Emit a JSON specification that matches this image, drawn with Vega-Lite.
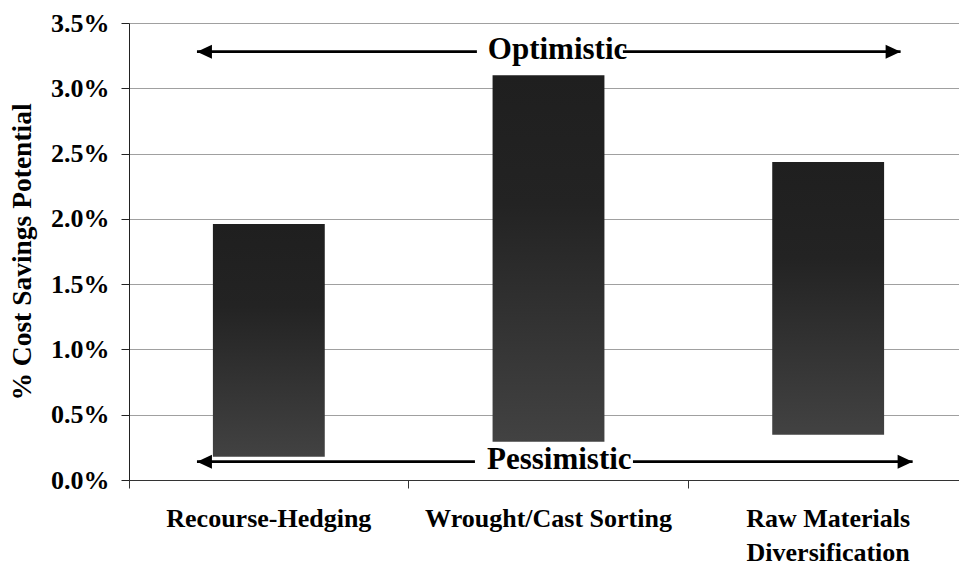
{
  "$schema": "https://vega.github.io/schema/vega-lite/v6.json",
  "width": 830,
  "height": 457,
  "autosize": {"type": "none"},
  "padding": {"left": 129, "top": 23, "right": 0, "bottom": 85},
  "background": "white",
  "config": {"view": {"stroke": null}, "font": "Liberation Serif"},
  "datasets": {
    "bars": [
      {"strategy": "Recourse-Hedging", "low": 0.00178, "high": 0.0196},
      {"strategy": "Wrought/Cast Sorting", "low": 0.00293, "high": 0.0310},
      {"strategy": "Raw Materials Diversification", "low": 0.00347, "high": 0.02435}
    ],
    "arrows": [
      {"label": "Optimistic", "y": 0.0328, "xl": 0.243, "xle": 1.244, "xt": 1.283, "xrs": 1.766, "xr": 2.759},
      {"label": "Pessimistic", "y": 0.0014, "xl": 0.243, "xle": 1.237, "xt": 1.280, "xrs": 1.802, "xr": 2.802}
    ]
  },
  "layer": [
    {
      "data": {"name": "bars"},
      "mark": {
        "type": "bar",
        "width": {"band": 0.4},
        "color": {
          "gradient": "linear", "x1": 0, "y1": 0, "x2": 0, "y2": 1,
          "stops": [
            {"offset": 0, "color": "#1f1f1f"},
            {"offset": 0.35, "color": "#232323"},
            {"offset": 1, "color": "#424242"}
          ]
        }
      },
      "encoding": {
        "x": {
          "field": "strategy", "type": "nominal", "sort": null,
          "scale": {"range": [0, 839], "paddingInner": 0, "paddingOuter": 0},
          "axis": {
            "title": null, "bandPosition": 0, "tickSize": 8, "labelAngle": 0,
            "labelFontSize": 26, "labelFontWeight": "bold", "labelColor": "black",
            "labelPadding": 17, "labelLimit": 400, "labelOverlap": false,
            "labelBaseline": "top", "labelLineHeight": 34,
            "labelExpr": "datum.value == 'Raw Materials Diversification' ? ['Raw Materials', 'Diversification'] : datum.value",
            "domainColor": "#333333", "tickColor": "#333333", "grid": false
          }
        },
        "y": {
          "field": "low", "type": "quantitative",
          "scale": {"domain": [0, 0.035], "nice": false},
          "axis": {
            "title": "% Cost Savings Potential",
            "titleFontSize": 27.5, "titleFontWeight": "bold", "titleColor": "black", "titlePadding": 14,
            "values": [0, 0.005, 0.01, 0.015, 0.02, 0.025, 0.03, 0.035],
            "format": ".1%",
            "labelFontSize": 26, "labelFontWeight": "bold", "labelColor": "black", "labelPadding": 12,
            "tickSize": 8, "tickColor": "#222222", "domainColor": "#222222",
            "grid": true, "gridColor": "#a0a0a0", "gridWidth": 1
          }
        },
        "y2": {"field": "high"}
      }
    },
    {
      "data": {"name": "arrows"},
      "mark": {"type": "rule", "strokeWidth": 2.75, "color": "black"},
      "encoding": {
        "x": {"field": "xl", "type": "quantitative", "scale": {"domain": [0, 3], "range": [0, 839]}, "axis": null},
        "x2": {"field": "xle"},
        "y": {"field": "y", "type": "quantitative"}
      }
    },
    {
      "data": {"name": "arrows"},
      "mark": {"type": "rule", "strokeWidth": 2.75, "color": "black"},
      "encoding": {
        "x": {"field": "xrs", "type": "quantitative", "scale": {"domain": [0, 3], "range": [0, 839]}, "axis": null},
        "x2": {"field": "xr"},
        "y": {"field": "y", "type": "quantitative"}
      }
    },
    {
      "data": {"name": "arrows"},
      "mark": {"type": "point", "shape": "M0,0L2,-0.93L2,0.93Z", "size": 225, "filled": true, "opacity": 1, "color": "black"},
      "encoding": {
        "x": {"field": "xl", "type": "quantitative", "scale": {"domain": [0, 3], "range": [0, 839]}, "axis": null},
        "y": {"field": "y", "type": "quantitative"}
      }
    },
    {
      "data": {"name": "arrows"},
      "mark": {"type": "point", "shape": "M0,0L-2,-0.93L-2,0.93Z", "size": 225, "filled": true, "opacity": 1, "color": "black"},
      "encoding": {
        "x": {"field": "xr", "type": "quantitative", "scale": {"domain": [0, 3], "range": [0, 839]}, "axis": null},
        "y": {"field": "y", "type": "quantitative"}
      }
    },
    {
      "data": {"name": "arrows"},
      "mark": {"type": "text", "align": "left", "baseline": "alphabetic", "dy": 7.5, "fontSize": 31, "fontWeight": "bold", "font": "Liberation Serif", "color": "black"},
      "encoding": {
        "x": {"field": "xt", "type": "quantitative", "scale": {"domain": [0, 3], "range": [0, 839]}, "axis": null},
        "y": {"field": "y", "type": "quantitative"},
        "text": {"field": "label"}
      }
    }
  ],
  "resolve": {"scale": {"x": "independent"}}
}
